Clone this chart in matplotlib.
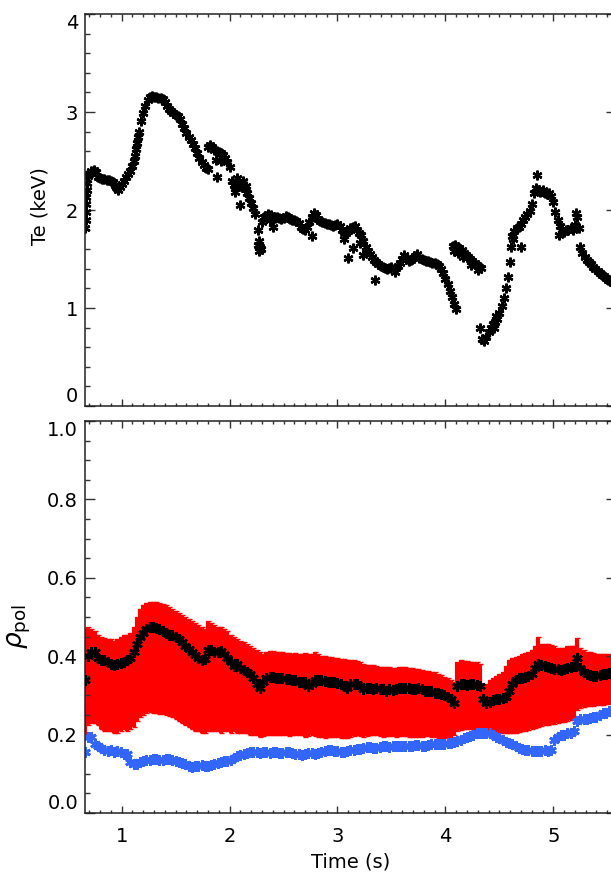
import numpy as np
import matplotlib.pyplot as plt
from matplotlib.ticker import MultipleLocator

plt.rcParams['font.family'] = ['DejaVu Sans']
plt.rcParams['mathtext.fontset'] = 'dejavusans'

# Electron temperature samples (s, keV)
te_time = [
    0.663, 0.666, 0.668, 0.670, 0.672, 0.675, 0.680, 0.690,
    0.70, 0.72, 0.74, 0.76, 0.78, 0.80, 0.82, 0.84, 0.86, 0.88, 0.90, 0.92, 0.94, 0.96, 0.98, 1.00,
    1.02, 1.04, 1.06, 1.08, 1.10, 1.12, 1.14, 1.16, 1.18, 1.20, 1.22, 1.24, 1.26, 1.28, 1.30, 1.32,
    1.34, 1.36, 1.38, 1.40, 1.42, 1.44, 1.46, 1.48, 1.50, 1.52, 1.54, 1.56, 1.58, 1.60, 1.62, 1.64,
    1.66, 1.68, 1.70, 1.72, 1.74, 1.76, 1.78, 1.80, 0.95, 0.97, 1.11, 1.13, 1.15,
    1.80, 1.82, 1.84, 1.86, 1.88, 1.90, 1.92, 1.94, 1.96, 1.98, 2.00, 1.87, 1.88, 1.92,
    2.02, 2.04, 2.06, 2.08, 2.10, 2.12, 2.14, 2.16, 2.18, 2.20, 2.22, 2.24, 2.05, 2.07, 2.10, 2.12, 2.15,
    2.26, 2.26, 2.27, 2.28, 2.27, 2.29,
    2.30, 2.32, 2.34, 2.36, 2.38, 2.40, 2.42, 2.44, 2.46, 2.48, 2.50, 2.52, 2.54, 2.56, 2.58, 2.60,
    2.62, 2.64, 2.66, 2.68, 2.70, 2.72, 2.74, 2.76, 2.78, 2.80, 2.82, 2.84, 2.86, 2.88, 2.90, 2.92,
    2.94, 2.96, 2.98, 3.00, 3.02, 3.04, 3.06, 3.08, 3.10, 3.12, 3.14, 3.16, 3.18, 3.20, 3.22, 3.24,
    3.26, 3.28, 3.30, 3.32, 3.34, 3.36, 3.38, 3.40, 3.42, 3.44, 3.46, 3.48, 3.50, 3.52, 3.54, 3.56,
    3.58, 3.60, 3.62, 3.64, 3.66, 3.68, 3.70, 3.72, 3.74, 3.76, 3.78, 3.80, 3.82, 3.84, 3.86, 3.88,
    3.90, 3.92, 3.94, 3.96, 3.98, 4.00, 4.02, 4.04, 4.06, 4.08, 4.10,
    2.40, 2.37, 2.76, 3.06, 3.10, 3.14, 3.21, 3.24, 3.35, 3.53,
    4.07, 4.09, 4.11, 4.13, 4.15, 4.17, 4.19, 4.21, 4.23, 4.25, 4.27, 4.29, 4.31, 4.33,
    4.08, 4.12, 4.16, 4.24, 4.30,
    4.32, 4.34, 4.36, 4.38, 4.40, 4.42, 4.44, 4.46, 4.48, 4.50, 4.52, 4.54, 4.56, 4.58, 4.60, 4.62,
    4.64, 4.66, 4.68, 4.70, 4.72, 4.74, 4.76, 4.78, 4.80, 4.82, 4.84, 4.86, 4.88, 4.90, 4.92, 4.94,
    4.96, 4.98, 5.00, 5.02, 5.04, 5.06, 5.08, 5.10, 5.12, 5.14, 5.16, 5.18, 5.20, 5.22, 5.24, 5.25,
    5.27, 5.29, 5.31, 5.33, 5.35, 5.37, 5.39, 5.41, 5.43, 5.45, 5.47, 5.49, 5.51, 5.53, 5.55,
    4.61, 4.63, 4.70, 4.85, 5.05, 5.21, 4.47, 4.45,
]
te_kev = [
    1.82, 1.90, 1.98, 2.06, 2.13, 2.20, 2.28, 2.35,
    2.37, 2.40, 2.41, 2.39, 2.34, 2.33, 2.32, 2.32, 2.31, 2.31, 2.30, 2.29, 2.26, 2.22, 2.24, 2.27,
    2.30, 2.34, 2.37, 2.40, 2.45, 2.55, 2.68, 2.80, 2.91, 2.99, 3.06, 3.12, 3.15, 3.16, 3.15, 3.15,
    3.14, 3.14, 3.13, 3.10, 3.06, 3.03, 3.01, 2.99, 2.97, 2.96, 2.93, 2.88, 2.84, 2.79, 2.75, 2.71,
    2.67, 2.63, 2.58, 2.53, 2.49, 2.46, 2.43, 2.42, 2.24, 2.20, 2.50, 2.62, 2.75,
    2.64, 2.66, 2.64, 2.61, 2.60, 2.59, 2.58, 2.56, 2.53, 2.49, 2.44, 2.51, 2.34, 2.50,
    2.30, 2.26, 2.24, 2.27, 2.25, 2.24, 2.21, 2.17, 2.12, 2.07, 2.02, 1.96, 2.18, 2.33, 2.05, 2.30, 2.25,
    1.80, 1.64, 1.58, 1.62, 1.68, 1.60,
    1.88, 1.93, 1.94, 1.96, 1.95, 1.93, 1.92, 1.93, 1.92, 1.91, 1.92, 1.94, 1.93, 1.91, 1.90, 1.90,
    1.89, 1.87, 1.83, 1.81, 1.80, 1.83, 1.88, 1.93, 1.97, 1.95, 1.91, 1.89, 1.88, 1.87, 1.86, 1.86,
    1.85, 1.84, 1.85, 1.86, 1.84, 1.80, 1.78, 1.77, 1.79, 1.82, 1.83, 1.84, 1.80, 1.77, 1.74, 1.68,
    1.62, 1.58, 1.55, 1.52, 1.49, 1.47, 1.45, 1.43, 1.42, 1.41, 1.40, 1.41, 1.42, 1.40, 1.41, 1.43,
    1.46, 1.50, 1.54, 1.50, 1.48, 1.49, 1.51, 1.53, 1.55, 1.51, 1.50, 1.49, 1.48, 1.48, 1.47, 1.46,
    1.46, 1.45, 1.43, 1.40, 1.36, 1.30, 1.24, 1.17, 1.11, 1.04, 0.99,
    1.83, 1.90, 1.73, 1.70, 1.51, 1.61, 1.66, 1.54, 1.29, 1.37,
    1.63, 1.64, 1.62, 1.61, 1.59, 1.56, 1.54, 1.52, 1.50, 1.48, 1.46, 1.44, 1.42, 1.41,
    1.58, 1.56, 1.52, 1.44, 1.39,
    0.80, 0.68, 0.66, 0.70, 0.76, 0.80, 0.84, 0.86, 0.89, 0.95, 1.02, 1.10, 1.20, 1.32, 1.47, 1.73,
    1.79, 1.82, 1.83, 1.86, 1.90, 1.93, 1.96, 1.99, 2.06, 2.17, 2.22, 2.20, 2.18, 2.20, 2.17, 2.16,
    2.17, 2.14, 2.08, 1.98, 1.90, 1.84, 1.80, 1.78, 1.80, 1.80, 1.82, 1.80, 1.85, 1.93, 1.82, 1.62,
    1.56, 1.52, 1.49, 1.47, 1.45, 1.42, 1.40, 1.38, 1.36, 1.34, 1.33, 1.31, 1.29, 1.28, 1.26,
    1.62, 1.70, 1.62, 2.36, 1.74, 1.97, 0.92, 0.80,
]

# Profile fit: time base, rho_pol position with its upper / lower bounds, inner position
prof_time = [
    0.66, 0.69, 0.72, 0.75, 0.78, 0.81, 0.84, 0.87, 0.90, 0.93,
    0.96, 0.99, 1.02, 1.05, 1.08, 1.11, 1.14, 1.17, 1.20, 1.23,
    1.26, 1.29, 1.32, 1.35, 1.38, 1.41, 1.44, 1.47, 1.50, 1.53,
    1.56, 1.59, 1.62, 1.65, 1.68, 1.71, 1.74, 1.77, 1.80, 1.83,
    1.86, 1.89, 1.92, 1.95, 1.98, 2.01, 2.04, 2.07, 2.10, 2.13,
    2.16, 2.19, 2.22, 2.25, 2.28, 2.31, 2.34, 2.37, 2.40, 2.43,
    2.46, 2.49, 2.52, 2.55, 2.58, 2.61, 2.64, 2.67, 2.70, 2.73,
    2.76, 2.79, 2.82, 2.85, 2.88, 2.91, 2.94, 2.97, 3.00, 3.03,
    3.06, 3.09, 3.12, 3.15, 3.18, 3.21, 3.24, 3.27, 3.30, 3.33,
    3.36, 3.39, 3.42, 3.45, 3.48, 3.51, 3.54, 3.57, 3.60, 3.63,
    3.66, 3.69, 3.72, 3.75, 3.78, 3.81, 3.84, 3.87, 3.90, 3.93,
    3.96, 3.99, 4.02, 4.05, 4.08, 4.11, 4.14, 4.17, 4.20, 4.23,
    4.26, 4.29, 4.32, 4.35, 4.38, 4.41, 4.44, 4.47, 4.50, 4.53,
    4.56, 4.59, 4.62, 4.65, 4.68, 4.71, 4.74, 4.77, 4.80, 4.83,
    4.86, 4.89, 4.92, 4.95, 4.98, 5.01, 5.04, 5.07, 5.10, 5.13,
    5.16, 5.19, 5.22, 5.25, 5.28, 5.31, 5.34, 5.37, 5.40, 5.43,
    5.46, 5.49, 5.52, 5.55,
]
rho_pos = [
    0.34, 0.40, 0.41, 0.41, 0.395, 0.39, 0.39, 0.385, 0.38, 0.378,
    0.38, 0.383, 0.385, 0.39, 0.395, 0.41, 0.43, 0.45, 0.46, 0.47,
    0.475, 0.475, 0.472, 0.47, 0.465, 0.46, 0.455, 0.455, 0.45, 0.445,
    0.435, 0.425, 0.418, 0.41, 0.403, 0.395, 0.39, 0.392, 0.415, 0.415,
    0.41, 0.41, 0.412, 0.405, 0.395, 0.385, 0.375, 0.38, 0.37, 0.365,
    0.36, 0.355, 0.345, 0.33, 0.32, 0.335, 0.345, 0.347, 0.348, 0.345,
    0.345, 0.345, 0.342, 0.343, 0.34, 0.338, 0.335, 0.335, 0.333, 0.325,
    0.33, 0.34, 0.34, 0.338, 0.336, 0.335, 0.335, 0.333, 0.332, 0.33,
    0.325, 0.318, 0.33, 0.33, 0.328, 0.325, 0.315, 0.318, 0.318, 0.315,
    0.318, 0.315, 0.315, 0.312, 0.315, 0.313, 0.315, 0.318, 0.318, 0.32,
    0.318, 0.315, 0.317, 0.318, 0.315, 0.312, 0.31, 0.31, 0.307, 0.305,
    0.303, 0.30, 0.295, 0.29, 0.28, 0.325, 0.33, 0.328, 0.327, 0.328,
    0.33, 0.327, 0.325, 0.29, 0.28, 0.283, 0.287, 0.29, 0.292, 0.293,
    0.297, 0.31, 0.33, 0.338, 0.345, 0.345, 0.347, 0.35, 0.355, 0.37,
    0.38, 0.378, 0.375, 0.373, 0.37, 0.368, 0.368, 0.365, 0.367, 0.37,
    0.372, 0.375, 0.395, 0.37, 0.36, 0.355, 0.352, 0.35, 0.35, 0.353,
    0.355, 0.355, 0.357, 0.358,
]
rho_upper = [
    0.47, 0.475, 0.47, 0.465, 0.455, 0.45, 0.447, 0.445, 0.445, 0.44,
    0.445, 0.45, 0.455, 0.455, 0.46, 0.475, 0.50, 0.52, 0.53, 0.535,
    0.538, 0.538, 0.537, 0.535, 0.533, 0.53, 0.525, 0.52, 0.515, 0.51,
    0.505, 0.50, 0.495, 0.49, 0.485, 0.48, 0.475, 0.47, 0.49, 0.485,
    0.48, 0.475, 0.475, 0.47, 0.465, 0.455, 0.45, 0.445, 0.44, 0.435,
    0.43, 0.425, 0.42, 0.415, 0.41, 0.405, 0.41, 0.412, 0.412, 0.41,
    0.41, 0.41, 0.408, 0.408, 0.405, 0.408, 0.405, 0.405, 0.408, 0.405,
    0.405, 0.41, 0.405, 0.40, 0.40, 0.398, 0.398, 0.395, 0.395, 0.393,
    0.392, 0.39, 0.39, 0.39, 0.388, 0.385, 0.38, 0.378, 0.377, 0.378,
    0.375, 0.373, 0.372, 0.373, 0.372, 0.37, 0.37, 0.372, 0.373, 0.372,
    0.37, 0.37, 0.368, 0.368, 0.365, 0.363, 0.362, 0.36, 0.36, 0.355,
    0.352, 0.348, 0.345, 0.34, 0.335, 0.385, 0.39, 0.388, 0.387, 0.386,
    0.385, 0.385, 0.38, 0.32, 0.33, 0.34, 0.345, 0.35, 0.355, 0.36,
    0.375, 0.39, 0.395, 0.398, 0.40, 0.405, 0.408, 0.41, 0.415, 0.425,
    0.45, 0.43, 0.432, 0.43, 0.428, 0.425, 0.42, 0.42, 0.42, 0.425,
    0.425, 0.425, 0.447, 0.42, 0.415, 0.41, 0.41, 0.408, 0.405, 0.405,
    0.405, 0.405, 0.405, 0.405,
]
rho_lower = [
    0.195, 0.225, 0.23, 0.23, 0.225, 0.215, 0.21, 0.21, 0.208, 0.205,
    0.205, 0.21, 0.215, 0.21, 0.215, 0.22, 0.235, 0.245, 0.25, 0.255,
    0.257, 0.255, 0.255, 0.253, 0.252, 0.25, 0.248, 0.245, 0.24, 0.235,
    0.23, 0.225, 0.22, 0.215, 0.21, 0.208, 0.205, 0.205, 0.21, 0.21,
    0.208, 0.21, 0.205, 0.21, 0.21, 0.205, 0.208, 0.205, 0.205, 0.205,
    0.203, 0.20, 0.20, 0.198, 0.195, 0.197, 0.198, 0.20, 0.20, 0.198,
    0.20, 0.20, 0.198, 0.197, 0.198, 0.20, 0.20, 0.198, 0.195, 0.197,
    0.198, 0.196, 0.195, 0.193, 0.192, 0.193, 0.195, 0.195, 0.193, 0.192,
    0.19, 0.192, 0.195, 0.197, 0.198, 0.197, 0.195, 0.196, 0.198, 0.20,
    0.198, 0.196, 0.195, 0.196, 0.197, 0.196, 0.195, 0.196, 0.197, 0.196,
    0.195, 0.195, 0.194, 0.193, 0.195, 0.197, 0.197, 0.195, 0.193, 0.19,
    0.19, 0.192, 0.19, 0.192, 0.20, 0.21, 0.212, 0.215, 0.215, 0.213,
    0.212, 0.21, 0.21, 0.21, 0.207, 0.205, 0.203, 0.203, 0.205, 0.205,
    0.203, 0.205, 0.205, 0.205, 0.206, 0.208, 0.21, 0.212, 0.215, 0.218,
    0.22, 0.222, 0.224, 0.225, 0.226, 0.228, 0.23, 0.232, 0.233, 0.235,
    0.237, 0.24, 0.262, 0.268, 0.27, 0.272, 0.272, 0.273, 0.275, 0.275,
    0.275, 0.277, 0.278, 0.278,
]
rho_inner = [
    0.155, 0.195, 0.195, 0.175, 0.172, 0.165, 0.16, 0.158, 0.16, 0.155,
    0.158, 0.155, 0.15, 0.15, 0.13, 0.125, 0.125, 0.13, 0.132, 0.135,
    0.135, 0.138, 0.138, 0.135, 0.135, 0.138, 0.138, 0.135, 0.133, 0.13,
    0.128, 0.125, 0.12, 0.118, 0.12, 0.12, 0.122, 0.12, 0.12, 0.123,
    0.125, 0.128, 0.13, 0.132, 0.132, 0.135, 0.14, 0.145, 0.148, 0.15,
    0.152, 0.155, 0.155, 0.155, 0.152, 0.155, 0.155, 0.153, 0.155, 0.155,
    0.153, 0.152, 0.155, 0.155, 0.153, 0.15, 0.15, 0.148, 0.15, 0.152,
    0.152, 0.15, 0.152, 0.155, 0.158, 0.16, 0.16, 0.158, 0.158, 0.155,
    0.155, 0.157, 0.16, 0.16, 0.162, 0.162, 0.165, 0.168, 0.168, 0.165,
    0.165, 0.168, 0.17, 0.17, 0.168, 0.17, 0.172, 0.172, 0.17, 0.17,
    0.172, 0.172, 0.173, 0.173, 0.172, 0.172, 0.173, 0.175, 0.175, 0.175,
    0.175, 0.177, 0.178, 0.178, 0.18, 0.183, 0.187, 0.19, 0.193, 0.197,
    0.20, 0.203, 0.205, 0.205, 0.205, 0.203, 0.20, 0.195, 0.19, 0.185,
    0.18, 0.178, 0.175, 0.17, 0.165, 0.162, 0.16, 0.16, 0.158, 0.158,
    0.158, 0.158, 0.16, 0.158, 0.16, 0.185, 0.195, 0.198, 0.20, 0.205,
    0.205, 0.21, 0.235, 0.24, 0.24, 0.24, 0.242, 0.245, 0.245, 0.25,
    0.255, 0.255, 0.26, 0.262,
]

rho = np.array(rho_pos)
err = [rho - np.array(rho_lower), np.array(rho_upper) - rho]

star = (6, 2, 0)

fig = plt.figure(figsize=(6.11, 8.72), dpi=100)
ax1 = fig.add_axes([0.1391, 0.5344, 0.8689, 0.4495])
ax2 = fig.add_axes([0.1391, 0.0677, 0.8689, 0.4495])

# top: Te
ax1.plot(te_time, te_kev, linestyle='none', marker=star, color='black',
         markersize=7, markeredgewidth=1.7)
ax1.set_xlim(0.66, 5.58)
ax1.set_ylim(0, 4)
ax1.set_yticks([0, 1, 2, 3, 4])
ax1.yaxis.set_minor_locator(MultipleLocator(0.2))
ax1.tick_params(axis='x', labelbottom=False)
ax1.set_ylabel('Te (keV)', fontsize=14)
ax1.yaxis.set_label_coords(-0.066, 0.51)

# bottom: rho_pol with error bars
ax2.errorbar(prof_time, rho, yerr=err, fmt='none', ecolor='#ff0000',
             elinewidth=3.0, capsize=1.8, capthick=1.0, zorder=1)
ax2.plot(prof_time, rho_inner, linestyle='none', marker=star, color='#3366ff',
         markersize=7.5, markeredgewidth=2.0, zorder=2)
ax2.plot(prof_time, rho, linestyle='none', marker=star, color='black',
         markersize=7.5, markeredgewidth=1.8, zorder=3)
ax2.set_xlim(0.66, 5.58)
ax2.set_ylim(0, 1.0)
ax2.set_yticks([0.0, 0.2, 0.4, 0.6, 0.8, 1.0])
ax2.yaxis.set_minor_locator(MultipleLocator(0.05))
ax2.yaxis.set_major_formatter(plt.FormatStrFormatter('%.1f'))
ax2.set_xlabel('Time (s)', fontsize=14)
ax2.xaxis.set_label_coords(0.5, -0.1)
ax2.set_ylabel(r'$\rho_{\rm pol}$', fontsize=19)
ax2.yaxis.set_label_coords(-0.098, 0.475)

for ax in (ax1, ax2):
    ax.xaxis.set_major_locator(MultipleLocator(1))
    ax.xaxis.set_minor_locator(MultipleLocator(0.1))
    ax.tick_params(which='both', direction='in', top=True, right=True,
                   width=1.0, color='#333333', labelsize=14)
    ax.tick_params(axis='x', which='major', length=5, pad=10)
    ax.tick_params(axis='x', which='minor', length=2.5)
    ax.tick_params(axis='y', which='major', length=7.2, pad=5)
    ax.tick_params(axis='y', which='minor', length=3.6)
    for s in ax.spines.values():
        s.set_linewidth(1.1)
        s.set_color('#222222')

# end labels sit inside the axis range
for ax in (ax1, ax2):
    labels = ax.get_yticklabels()
    labels[0].set_verticalalignment('bottom')
    labels[-1].set_verticalalignment('top')

fig.savefig('out.png', dpi=100)
